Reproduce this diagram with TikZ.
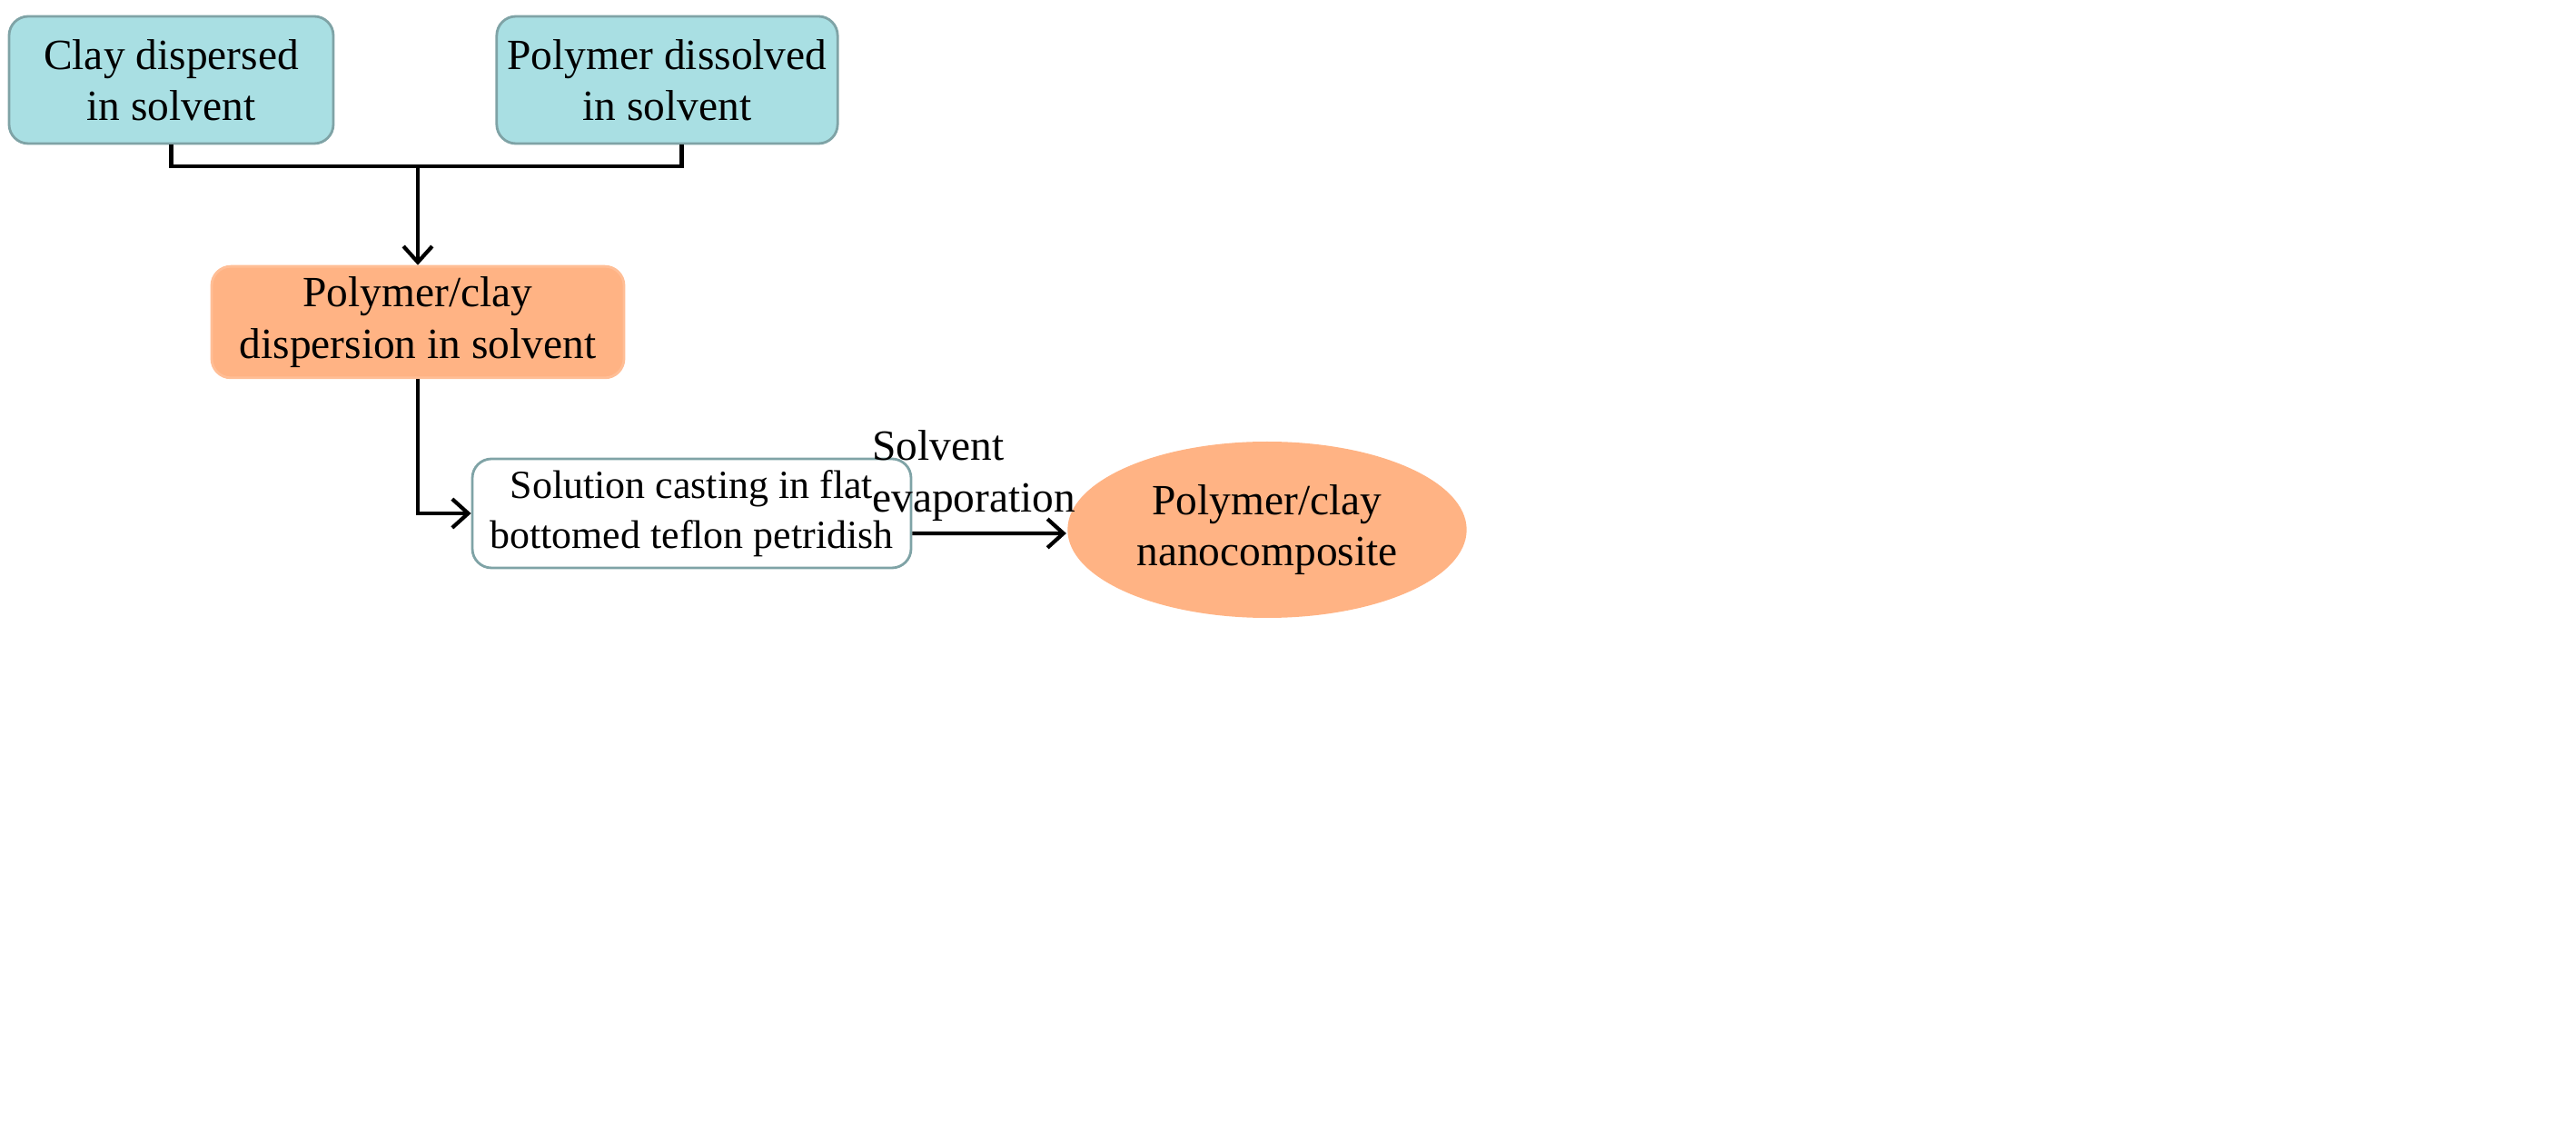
\documentclass[tikz,border=0pt]{standalone}
\usepackage{fontspec}
\setmainfont{Liberation Serif}
\usetikzlibrary{positioning, shapes.geometric, arrows.meta}
\definecolor{boxcyan}{HTML}{A9DFE3}
\definecolor{boxorange}{HTML}{FFB384}
\definecolor{boxline}{HTML}{7FA3A6}

\begin{document}
\begin{tikzpicture}
% Style
[
    x=1cm, y=-1cm, thick,
    every node/.style={font=\fontsize{13.5}{16}\selectfont},
    stage/.style={
        draw=boxline, rounded corners=6pt, align=center,
        minimum width=3.57cm, minimum height=1.4cm
    },
    link/.style={line width=1.2pt},
    arrow/.style={link, -{Straight Barb[length=5pt,width=9pt]}}
]
\useasboundingbox (0,0) rectangle (28.36,12.59);

%=================================== Start ===================================
{
    \node[stage, fill=boxcyan] (clay) at (1.885,0.88) {Clay dispersed\\in solvent};
    \node[stage, fill=boxcyan] (poly) at (7.345,0.88) {Polymer dissolved\\in solvent};
    \node[stage, fill=boxorange, draw=boxorange!85!white, minimum width=4.54cm, minimum height=1.15cm]
        (disp) at (4.6,3.545) {Polymer/clay\\dispersion in solvent};
    \node[stage, fill=white, minimum width=4.83cm, minimum height=1.2cm,
          font=\fontsize{12.5}{15.5}\selectfont]
        (cast) at (7.615,5.65) {Solution casting in flat\\bottomed teflon petridish};
    \node[ellipse, fill=boxorange, minimum width=3.2cm, minimum height=1.94cm, align=center]
        (nano) at (13.95,5.83) {Polymer/clay\\nanocomposite};

    \coordinate (join) at (4.6,1.83);
    \draw[link] (clay.south) |- (join) -| ([xshift=1.6mm]poly.south);
    \draw[arrow] (join) -- (disp.north);
    \draw[arrow] (disp.south) |- (cast.west);
    \draw[arrow] ([yshift=-2.2mm]cast.east) -- node[above, align=left, pos=0.4] {Solvent\\evaporation}
        ([yshift=-0.4mm]nano.west);
}
%==================================== END ====================================

\end{tikzpicture}
\end{document}
